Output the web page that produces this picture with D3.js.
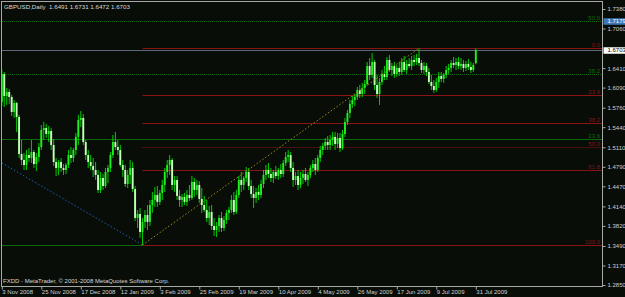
<!DOCTYPE html>
<html>
<head>
<meta charset="utf-8">
<script src="https://cdn.jsdelivr.net/npm/d3@7"></script>
<style>
  body { margin: 0; background: #080d08; }
  svg { display: block; }
  text { font-family: "Liberation Sans", Arial, sans-serif; white-space: pre; }
</style>
</head>
<body>
<script>
// GBPUSD daily bars, 3 Nov 2008 .. 31 Jul 2009 (index 0..192)
const opens = [
  1.5854, 1.6314, 1.5952, 1.6018, 1.5936, 1.5690, 1.5838, 1.5608, 1.5000, 1.4902,
  1.4820, 1.4984, 1.4935, 1.5033, 1.4836, 1.4951, 1.5115, 1.5394, 1.5427, 1.5329,
  1.5378, 1.5148, 1.4869, 1.4771, 1.4869, 1.4771, 1.4738, 1.4820, 1.4984, 1.4935,
  1.5066, 1.5280, 1.5559, 1.5591, 1.5197, 1.4984, 1.4869, 1.4804, 1.4738, 1.4656,
  1.4410, 1.4607, 1.4475, 1.4705, 1.4771, 1.4984, 1.5197, 1.5115, 1.5066, 1.4820,
  1.4738, 1.4508, 1.4656, 1.4771, 1.4426, 1.3950, 1.4016, 1.3720, 1.3885, 1.3999,
  1.3885, 1.4163, 1.4246, 1.4328, 1.4213, 1.4360, 1.4492, 1.4705, 1.4820, 1.4902,
  1.4492, 1.4574, 1.4311, 1.4246, 1.4295, 1.4213, 1.4328, 1.4278, 1.4541, 1.4410,
  1.4492, 1.4262, 1.4163, 1.4081, 1.3950, 1.4049, 1.3819, 1.3753, 1.3819, 1.3950,
  1.3786, 1.3917, 1.4032, 1.4081, 1.4246, 1.4049, 1.4328, 1.4574, 1.4492, 1.4607,
  1.4705, 1.4475, 1.4344, 1.4278, 1.4377, 1.4328, 1.4508, 1.4656, 1.4738, 1.4672,
  1.4607, 1.4705, 1.4639, 1.4738, 1.4672, 1.4853, 1.4951, 1.4984, 1.4771, 1.4574,
  1.4639, 1.4492, 1.4607, 1.4672, 1.4574, 1.4656, 1.4771, 1.4836, 1.4738, 1.4935,
  1.5066, 1.5132, 1.5197, 1.5148, 1.5230, 1.5280, 1.5165, 1.5263, 1.5099, 1.5329,
  1.5526, 1.5673, 1.5821, 1.5887, 1.5936, 1.6051, 1.5985, 1.6084, 1.6149, 1.6445,
  1.6297, 1.6510, 1.6133, 1.5985, 1.6182, 1.6314, 1.6264, 1.6543, 1.6379, 1.6445,
  1.6314, 1.6412, 1.6346, 1.6510, 1.6379, 1.6478, 1.6445, 1.6543, 1.6510, 1.6576,
  1.6494, 1.6379, 1.6445, 1.6346, 1.6182, 1.6117, 1.6051, 1.6182, 1.6281, 1.6231,
  1.6297, 1.6379, 1.6412, 1.6494, 1.6461, 1.6510, 1.6445, 1.6478, 1.6412, 1.6478,
  1.6428, 1.6379, 1.6491
];
const highs = [
  1.6396, 1.6346, 1.6084, 1.6067, 1.5969, 1.5887, 1.5854, 1.5641, 1.5230, 1.5017,
  1.5066, 1.5099, 1.5230, 1.5066, 1.5017, 1.5181, 1.5476, 1.5526, 1.5493, 1.5460,
  1.5427, 1.5247, 1.4935, 1.4902, 1.4935, 1.4836, 1.4853, 1.5066, 1.5115, 1.5099,
  1.5345, 1.5641, 1.5706, 1.5657, 1.5230, 1.5066, 1.4984, 1.4935, 1.4869, 1.4738,
  1.4705, 1.4672, 1.4771, 1.4820, 1.5033, 1.5312, 1.5362, 1.5230, 1.5148, 1.4902,
  1.4820, 1.4738, 1.4902, 1.4869, 1.4475, 1.4081, 1.4114, 1.3950, 1.4081, 1.4163,
  1.4246, 1.4377, 1.4459, 1.4475, 1.4410, 1.4574, 1.4771, 1.4902, 1.4984, 1.4935,
  1.4639, 1.4639, 1.4410, 1.4344, 1.4360, 1.4410, 1.4492, 1.4639, 1.4607, 1.4574,
  1.4557, 1.4442, 1.4311, 1.4246, 1.4147, 1.4163, 1.3950, 1.3885, 1.3999, 1.4049,
  1.3983, 1.4081, 1.4131, 1.4328, 1.4377, 1.4410, 1.4639, 1.4705, 1.4639, 1.4787,
  1.4771, 1.4574, 1.4475, 1.4442, 1.4492, 1.4574, 1.4738, 1.4820, 1.4853, 1.4771,
  1.4738, 1.4804, 1.4771, 1.4836, 1.4902, 1.5033, 1.5066, 1.5033, 1.4869, 1.4705,
  1.4738, 1.4705, 1.4738, 1.4771, 1.4705, 1.4820, 1.4902, 1.4935, 1.4984, 1.5132,
  1.5181, 1.5263, 1.5296, 1.5312, 1.5362, 1.5362, 1.5345, 1.5345, 1.5394, 1.5591,
  1.5723, 1.5887, 1.5952, 1.5985, 1.6100, 1.6133, 1.6166, 1.6215, 1.6510, 1.6576,
  1.6658, 1.6543, 1.6297, 1.6248, 1.6379, 1.6445, 1.6593, 1.6625, 1.6494, 1.6510,
  1.6461, 1.6510, 1.6576, 1.6609, 1.6543, 1.6576, 1.6609, 1.6625, 1.6642, 1.6735,
  1.6543, 1.6510, 1.6494, 1.6412, 1.6297, 1.6215, 1.6248, 1.6346, 1.6346, 1.6330,
  1.6445, 1.6478, 1.6543, 1.6593, 1.6576, 1.6593, 1.6576, 1.6543, 1.6527, 1.6560,
  1.6510, 1.6494, 1.6731
];
const lows = [
  1.5788, 1.5772, 1.5805, 1.5821, 1.5624, 1.5591, 1.5362, 1.4935, 1.4820, 1.4738,
  1.4738, 1.4869, 1.4853, 1.4771, 1.4721, 1.4869, 1.5066, 1.5230, 1.5263, 1.5197,
  1.5066, 1.4804, 1.4639, 1.4656, 1.4705, 1.4656, 1.4672, 1.4771, 1.4853, 1.4869,
  1.4984, 1.5148, 1.5444, 1.5148, 1.4902, 1.4771, 1.4738, 1.4623, 1.4574, 1.4360,
  1.4360, 1.4410, 1.4442, 1.4524, 1.4705, 1.4935, 1.5066, 1.4984, 1.4787, 1.4623,
  1.4459, 1.4442, 1.4508, 1.4377, 1.3901, 1.3786, 1.3622, 1.3507, 1.3786, 1.3753,
  1.3819, 1.4032, 1.4131, 1.4131, 1.4163, 1.4246, 1.4377, 1.4607, 1.4656, 1.4410,
  1.4377, 1.4246, 1.4131, 1.4131, 1.4163, 1.4147, 1.4229, 1.4246, 1.4295, 1.4328,
  1.4196, 1.4032, 1.4049, 1.3885, 1.3835, 1.3753, 1.3655, 1.3638, 1.3720, 1.3720,
  1.3737, 1.3852, 1.3917, 1.4032, 1.3999, 1.4016, 1.4278, 1.4377, 1.4410, 1.4541,
  1.4410, 1.4278, 1.4114, 1.4196, 1.4246, 1.4278, 1.4442, 1.4574, 1.4607, 1.4541,
  1.4524, 1.4590, 1.4574, 1.4607, 1.4623, 1.4804, 1.4869, 1.4705, 1.4459, 1.4492,
  1.4410, 1.4442, 1.4508, 1.4541, 1.4475, 1.4607, 1.4705, 1.4656, 1.4705, 1.4869,
  1.4984, 1.5066, 1.5066, 1.5066, 1.5132, 1.5066, 1.5099, 1.5033, 1.5066, 1.5280,
  1.5476, 1.5591, 1.5755, 1.5788, 1.5887, 1.5920, 1.5936, 1.5985, 1.6117, 1.6215,
  1.6248, 1.6051, 1.5920, 1.5805, 1.6133, 1.6215, 1.6215, 1.6346, 1.6281, 1.6248,
  1.6264, 1.6281, 1.6297, 1.6346, 1.6314, 1.6412, 1.6379, 1.6445, 1.6461, 1.6445,
  1.6330, 1.6314, 1.6281, 1.6149, 1.6051, 1.6002, 1.6018, 1.6084, 1.6182, 1.6166,
  1.6248, 1.6314, 1.6346, 1.6412, 1.6379, 1.6396, 1.6379, 1.6346, 1.6363, 1.6379,
  1.6330, 1.6346, 1.6472
];
const closes = [
  1.6314, 1.5952, 1.6018, 1.5936, 1.5690, 1.5838, 1.5608, 1.5000, 1.4902, 1.4820,
  1.4984, 1.4935, 1.5033, 1.4836, 1.4951, 1.5115, 1.5394, 1.5427, 1.5329, 1.5378,
  1.5148, 1.4869, 1.4771, 1.4869, 1.4771, 1.4738, 1.4820, 1.4984, 1.4935, 1.5066,
  1.5280, 1.5559, 1.5591, 1.5197, 1.4984, 1.4869, 1.4804, 1.4738, 1.4656, 1.4410,
  1.4607, 1.4475, 1.4705, 1.4771, 1.4984, 1.5197, 1.5115, 1.5066, 1.4820, 1.4738,
  1.4508, 1.4656, 1.4771, 1.4426, 1.3950, 1.4016, 1.3720, 1.3885, 1.3999, 1.3885,
  1.4163, 1.4246, 1.4328, 1.4213, 1.4360, 1.4492, 1.4705, 1.4820, 1.4902, 1.4492,
  1.4574, 1.4311, 1.4246, 1.4295, 1.4213, 1.4328, 1.4278, 1.4541, 1.4410, 1.4492,
  1.4262, 1.4163, 1.4081, 1.3950, 1.4049, 1.3819, 1.3753, 1.3819, 1.3950, 1.3786,
  1.3917, 1.4032, 1.4081, 1.4246, 1.4049, 1.4328, 1.4574, 1.4492, 1.4607, 1.4705,
  1.4475, 1.4344, 1.4278, 1.4377, 1.4328, 1.4508, 1.4656, 1.4738, 1.4672, 1.4607,
  1.4705, 1.4639, 1.4738, 1.4672, 1.4853, 1.4951, 1.4984, 1.4771, 1.4574, 1.4639,
  1.4492, 1.4607, 1.4672, 1.4574, 1.4656, 1.4771, 1.4836, 1.4738, 1.4935, 1.5066,
  1.5132, 1.5197, 1.5148, 1.5230, 1.5280, 1.5165, 1.5263, 1.5099, 1.5329, 1.5526,
  1.5673, 1.5821, 1.5887, 1.5936, 1.6051, 1.5985, 1.6084, 1.6149, 1.6445, 1.6297,
  1.6510, 1.6133, 1.5985, 1.6182, 1.6314, 1.6264, 1.6543, 1.6379, 1.6445, 1.6314,
  1.6412, 1.6346, 1.6510, 1.6379, 1.6478, 1.6445, 1.6543, 1.6510, 1.6576, 1.6494,
  1.6379, 1.6445, 1.6346, 1.6182, 1.6117, 1.6051, 1.6182, 1.6281, 1.6231, 1.6297,
  1.6379, 1.6412, 1.6494, 1.6461, 1.6510, 1.6445, 1.6478, 1.6412, 1.6478, 1.6428,
  1.6379, 1.6461, 1.6703
];

// axis labels
const priceTicks = [1.7380, 1.7060, 1.6410, 1.6090, 1.5760, 1.5440, 1.5110,
  1.4790, 1.4470, 1.4140, 1.3820, 1.3490, 1.3170, 1.2850];
const dateIdx = [0, 16, 32, 48, 64, 80, 96, 112, 128, 144, 160, 176, 192];
const dateLabels = ['3 Nov 2008', '25 Nov 2008', '17 Dec 2008', '12 Jan 2009', '3 Feb 2009',
  '25 Feb 2009', '19 Mar 2009', '10 Apr 2009', '4 May 2009', '26 May 2009',
  '17 Jun 2009', '9 Jul 2009', '31 Jul 2009'];

// fibonacci objects: start index, price at 0 level, price at 100 level
const fibRed = { start: 57, p0: 1.6735, p100: 1.3507 };
const fibGreen = { start: -2, p0: 1.3507, p100: 2.0851 };
const redLevels = [0, 23.6, 38.2, 50, 61.8, 100];
const greenLevels = [0, 23.6, 38.2, 50];
// fib diagonals: [index, price]
const blueDiag = [[0, 1.4853], [57, 1.3507]];
const yellowDiag = [[57, 1.3507], [169, 1.6735]];

const bid = 1.6703;
const markPrice = 1.7179;
const title = 'GBPUSD,Daily  1.6491 1.6731 1.6472 1.6703';
const footer = 'FXDD - MetaTrader, \u00a9 2001-2008 MetaQuotes Software Corp.';

// Set up the SVG
const W = 625, H = 297;
const plot = { left: 2, top: 2, right: 602.5, bottom: 286.5 };

const svg = d3.select('body').append('svg')
  .attr('width', W).attr('height', H);

svg.append('rect').attr('width', W).attr('height', H).attr('fill', '#080d08');

const x = d3.scaleLinear().domain([0, 192]).range([1.8, 475.8]);
const y = d3.scaleLinear().domain([1.2850, 1.7380]).range([285, 9]);

svg.append('clipPath').attr('id', 'clip')
  .append('rect')
  .attr('x', plot.left).attr('y', plot.top)
  .attr('width', plot.right - plot.left).attr('height', plot.bottom - plot.top);

const g = svg.append('g').attr('clip-path', 'url(#clip)');

// fib levels
function drawFib(fib, levels, color, dotted, hideLabel) {
  levels.forEach(lv => {
    const p = fib.p0 + (fib.p100 - fib.p0) * lv / 100;
    const yy = Math.round(y(p)) + 0.5;
    g.append('line')
      .attr('x1', Math.max(plot.left, x(fib.start))).attr('x2', plot.right)
      .attr('y1', yy).attr('y2', yy)
      .attr('stroke', color).attr('stroke-width', 1)
      .attr('stroke-dasharray', dotted.includes(lv) ? '1,1' : null);
    if (!hideLabel.includes(lv)) {
      g.append('text')
        .attr('x', 600).attr('y', yy - 1.5)
        .attr('text-anchor', 'end')
        .attr('font-size', 6).attr('fill', color)
        .text(lv.toFixed(1));
    }
  });
}
drawFib(fibGreen, greenLevels, '#0b6a0b', [38.2, 50], [0]);
drawFib(fibRed, redLevels, '#8a1414', [50], []);

// bid line
g.append('line')
  .attr('x1', plot.left).attr('x2', plot.right)
  .attr('y1', Math.round(y(bid)) + 0.5).attr('y2', Math.round(y(bid)) + 0.5)
  .attr('stroke', '#5d6878').attr('stroke-width', 1);

// candles
const idx = d3.range(closes.length);
const bw = 1.9;
g.selectAll('.wick').data(idx).enter().append('line')
  .attr('class', 'wick')
  .attr('x1', i => x(i)).attr('x2', i => x(i))
  .attr('y1', i => y(highs[i])).attr('y2', i => y(lows[i]))
  .attr('stroke', '#00e000').attr('stroke-width', 0.9);

g.selectAll('.body').data(idx).enter().append('rect')
  .attr('class', 'body')
  .attr('x', i => x(i) - bw / 2)
  .attr('width', bw)
  .attr('y', i => y(Math.max(opens[i], closes[i])))
  .attr('height', i => Math.max(1, Math.abs(y(opens[i]) - y(closes[i]))))
  .attr('fill', i => closes[i] >= opens[i] ? '#1ef01e' : '#c4ffb8');

// fib diagonals
const diag = d3.line().x(d => x(d[0])).y(d => y(d[1]));
g.append('path').attr('d', diag(blueDiag))
  .attr('fill', 'none').attr('stroke', '#2458b0').attr('stroke-width', 1)
  .attr('stroke-dasharray', '1.5,2');
g.append('path').attr('d', diag(yellowDiag))
  .attr('fill', 'none').attr('stroke', '#9c8a1c').attr('stroke-width', 1)
  .attr('stroke-dasharray', '1.5,2');

// frame
const frameColor = '#a8a8a8';
svg.append('rect')
  .attr('x', 1.5).attr('y', 1.5)
  .attr('width', plot.right - 1.5).attr('height', plot.bottom - 1.5)
  .attr('fill', 'none').attr('stroke', frameColor).attr('stroke-width', 1);

// right price axis
const yAxis = d3.axisRight(y)
  .tickValues(priceTicks)
  .tickSize(3)
  .tickPadding(2)
  .tickFormat(d3.format('.4f'));

const ya = svg.append('g')
  .attr('transform', `translate(${plot.right}, 0)`)
  .call(yAxis);
ya.select('.domain').remove();
ya.selectAll('line').attr('stroke', frameColor);
ya.selectAll('text').attr('fill', '#d0d0d0').attr('font-size', 6)
  .attr('font-family', '"Liberation Sans", Arial, sans-serif');

// bottom date axis
const xAxis = d3.axisBottom(x)
  .tickValues(dateIdx)
  .tickSize(3)
  .tickFormat((d, i) => dateLabels[i]);

const xa = svg.append('g')
  .attr('transform', `translate(0, ${plot.bottom})`)
  .call(xAxis);
xa.select('.domain').remove();
xa.selectAll('line').attr('stroke', frameColor);
xa.selectAll('text')
  .attr('text-anchor', 'start')
  .attr('x', 0).attr('y', 3).attr('dy', '0.71em')
  .attr('fill', '#d0d0d0').attr('font-size', 6)
  .attr('font-family', '"Liberation Sans", Arial, sans-serif');

// price tags
function priceTag(p, bg, fg) {
  const yy = y(p);
  svg.append('rect')
    .attr('x', plot.right + 1).attr('y', yy - 3)
    .attr('width', 22).attr('height', 6.5).attr('fill', bg);
  svg.append('text')
    .attr('x', plot.right + 5).attr('y', yy + 2.2)
    .attr('font-size', 6).attr('fill', fg)
    .text(d3.format('.4f')(p));
}
priceTag(markPrice, '#3f78b8', '#ffffff');
priceTag(bid, '#ffffff', '#000000');

// captions
svg.append('text')
  .attr('x', 4).attr('y', 8.5)
  .attr('font-size', 6.2).attr('fill', '#d8d8d8')
  .text(title);

svg.append('text')
  .attr('x', 3).attr('y', 283)
  .attr('font-size', 6).attr('fill', '#d8d8d8')
  .text(footer);
</script>
</body>
</html>
